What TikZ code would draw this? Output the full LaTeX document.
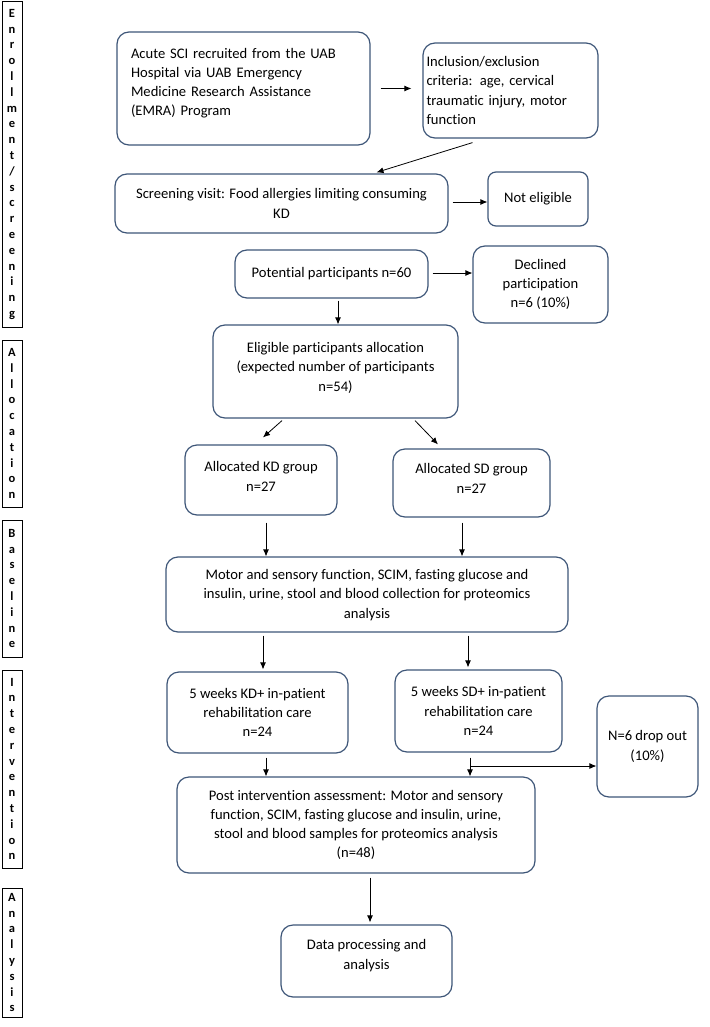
\documentclass[tikz,border=0pt]{standalone}
\usepackage{fontspec}
\setmainfont{Carlito}[Ligatures=NoCommon]
\usetikzlibrary{positioning,arrows.meta}
\definecolor{boxblue}{RGB}{62,86,120}

\begin{document}
\begin{tikzpicture}[x=1pt, y=-1pt,
        box/.style={draw=boxblue, line width=1.2pt, rounded corners=12pt, align=center, inner sep=4pt, font=\fontsize{14.6}{19.2}\selectfont},
        phase/.style={draw=black, line width=0.7pt, align=center, minimum width=20pt, inner sep=0pt, font=\fontsize{12.5}{15.8}\selectfont\bfseries},
        arr/.style={->, >={Latex[length=7pt,width=6pt]}, line width=0.8pt}
    ]
    \useasboundingbox (0,0) rectangle (709,1027);

    % Phase labels
    \node[phase, minimum height=326pt] (pEnrol) at (12,164.5) {E\\n\\r\\o\\l\\l\\m\\e\\n\\t\\/\\s\\c\\r\\e\\e\\n\\i\\n\\g};
    \node[phase, minimum height=167pt] (pAlloc) at (12,423.5) {A\\l\\l\\o\\c\\a\\t\\i\\o\\n};
    \node[phase, minimum height=137pt] (pBase) at (12,588.5) {B\\a\\s\\e\\l\\i\\n\\e};
    \node[phase, minimum height=198pt] (pInter) at (12,769) {I\\n\\t\\e\\r\\v\\e\\n\\t\\i\\o\\n};
    \node[phase, minimum height=129pt] (pAnal) at (12,952.5) {A\\n\\a\\l\\y\\s\\i\\s};

    % Enrollment / screening
    \node[box, align=left, text width=225pt, inner sep=14pt, minimum height=113pt] (acute) at (243.5,88.5)
        {Acute SCI recruited from the UAB\\Hospital via UAB Emergency\\Medicine Research Assistance\\(EMRA) Program\\[-6pt]\mbox{}};
    \node[box, align=left, text width=168pt, inner sep=3.5pt, minimum height=95pt] (incl) at (510.5,90.5)
        {Inclusion/exclusion\\criteria: age, cervical\\traumatic injury, motor\\function};
    \node[box, minimum width=333pt, minimum height=59pt] (screen) at (281.5,203.5)
        {Screening visit: Food allergies limiting consuming\\KD};
    \node[box, minimum width=100pt, minimum height=54pt, rounded corners=8pt] (noteli) at (538,199) {\raisebox{3pt}{Not eligible}};
    \node[box, minimum width=193pt, minimum height=48pt] (potential) at (331.5,274) {\raisebox{4pt}{Potential participants n=60}};
    \node[box, minimum width=135pt, minimum height=77pt] (declined) at (540.5,284.5) {Declined\\participation\\n=6 (10\%)};

    \draw[arr] ([xshift=10pt]acute.east) -- ([xshift=-11pt]acute.east -| incl.west);
    \draw[arr] ([xshift=-38pt,yshift=-4pt]incl.south) -- ([xshift=95pt,yshift=1pt]screen.north);
    \draw[arr] ([xshift=4pt,yshift=1.5pt]screen.east) -- ([yshift=1.5pt]screen.east -| noteli.west);
    \draw[arr] ([xshift=4pt,yshift=1pt]potential.east) -- ([yshift=1pt]potential.east -| declined.west);

    % Allocation
    \node[box, minimum width=245pt, minimum height=93pt] (elig) at (335.5,371.5)
        {Eligible participants allocation\\(expected number of participants\\n=54)\\[-10pt]\mbox{}};
    \node[box, minimum width=152pt, minimum height=70pt] (kd) at (261,480) {Allocated KD group\\n=27\\[-12pt]\mbox{}};
    \node[box, minimum width=157pt, minimum height=68pt] (sd) at (471.5,483) {Allocated SD group\\n=27\\[-10pt]\mbox{}};

    \draw[arr] ([xshift=6.5pt,yshift=-2pt]potential.south) -- ([xshift=6.5pt]potential.south |- elig.north);
    \draw[arr] ([xshift=-53.5pt,yshift=-2pt]elig.south) -- ([xshift=2pt,yshift=7pt]kd.north);
    \draw[arr] ([xshift=79.5pt,yshift=-2pt]elig.south) -- ([xshift=-33.5pt,yshift=4pt]sd.north);

    % Baseline
    \node[box, minimum width=402pt, minimum height=75pt] (base) at (367,594.5)
        {\mbox{}\\[-8pt]Motor and sensory function, SCIM, fasting glucose and\\insulin, urine, stool and blood collection for proteomics\\analysis};

    \draw[arr] ([xshift=5pt,yshift=-7pt]kd.south) -- ([xshift=5pt]kd.south |- base.north);
    \draw[arr] ([xshift=-9.5pt,yshift=-5pt]sd.south) -- ([xshift=-9.5pt]sd.south |- base.north);

    % Intervention
    \node[box, minimum width=181pt, minimum height=81pt] (kdp) at (257.5,712.5) {5 weeks KD+ in-patient\\rehabilitation care\\n=24};
    \node[box, minimum width=167pt, minimum height=82pt] (sdp) at (478.5,711) {5 weeks SD+ in-patient\\rehabilitation care\\n=24};
    \node[box, minimum width=101pt, minimum height=101pt] (drop) at (647.5,746.5) {N=6 drop out\\(10\%)};
    \node[box, minimum width=358pt, minimum height=96pt] (post) at (356,825)
        {Post intervention assessment: Motor and sensory\\function, SCIM, fasting glucose and insulin, urine,\\stool and blood samples for proteomics analysis\\(n=48)};
    \coordinate (split) at (470,766);

    \draw[arr] ([xshift=-104pt,yshift=-3pt]base.south) -- ([xshift=5.5pt,yshift=2pt]kdp.north);
    \draw[arr] ([xshift=101pt,yshift=-3pt]base.south) -- ([xshift=-10.5pt,yshift=2pt]sdp.north);
    \draw[arr] ([xshift=8.5pt,yshift=-4pt]kdp.south) -- ([xshift=-90pt]post.north);
    \draw[arr] ([xshift=-8.5pt,yshift=-5pt]sdp.south) -- ([xshift=114pt]post.north);
    \draw[arr] (split) -- (split -| drop.west);

    % Analysis
    \node[box, minimum width=171pt, minimum height=72pt] (data) at (366.5,961) {Data processing and\\analysis\\[-6pt]\mbox{}};

    \draw[arr] ([xshift=14pt,yshift=-4pt]post.south) -- ([xshift=3.5pt,yshift=2pt]data.north);

\end{tikzpicture}
\end{document}
